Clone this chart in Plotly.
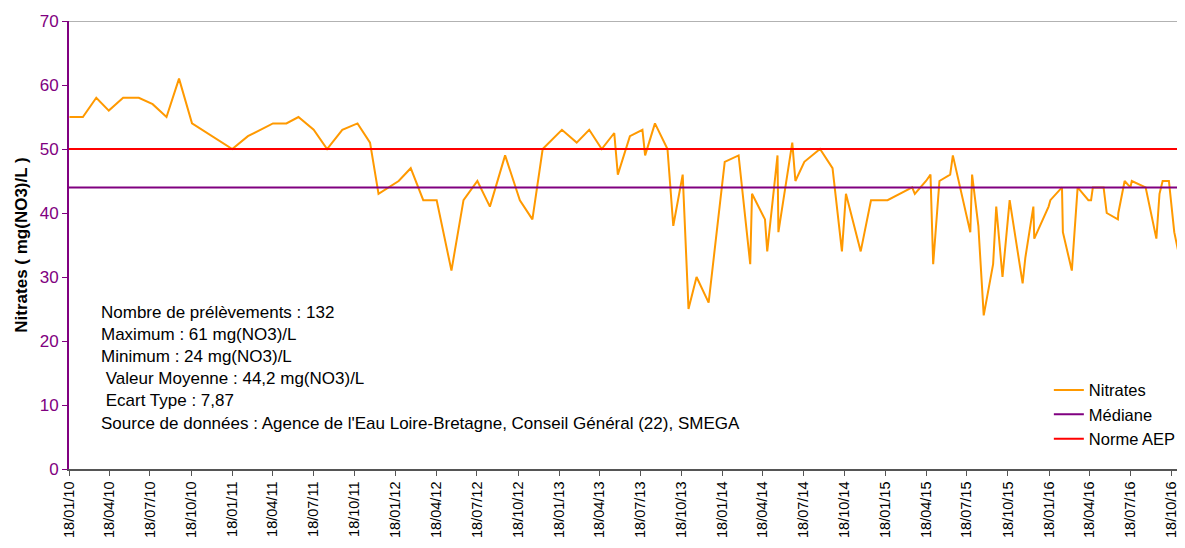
import plotly.graph_objects as go

dates = [
    "2010-01-19", "2010-02-18", "2010-03-20", "2010-04-17", "2010-05-19", "2010-06-23",
    "2010-07-24", "2010-08-24", "2010-09-21", "2010-10-20", "2011-01-18", "2011-02-22",
    "2011-04-19", "2011-05-19", "2011-06-15", "2011-07-19", "2011-08-18", "2011-09-21",
    "2011-10-25", "2011-11-22", "2011-12-11", "2012-01-25", "2012-02-21", "2012-03-20",
    "2012-04-19", "2012-05-22", "2012-06-18", "2012-07-19", "2012-08-16", "2012-09-19",
    "2012-10-22", "2012-11-19", "2012-12-12", "2013-01-24", "2013-02-26", "2013-03-26",
    "2013-04-23", "2013-05-21", "2013-05-29", "2013-06-25", "2013-07-23", "2013-07-29",
    "2013-08-20", "2013-09-17", "2013-09-30", "2013-10-21", "2013-11-03", "2013-11-21",
    "2013-12-18", "2014-01-23", "2014-02-23", "2014-03-21", "2014-03-25", "2014-04-23",
    "2014-04-28", "2014-05-21", "2014-05-23", "2014-06-23", "2014-06-30", "2014-07-20",
    "2014-08-24", "2014-09-21", "2014-10-12", "2014-10-21", "2014-11-23", "2014-12-16",
    "2015-01-22", "2015-03-18", "2015-03-24", "2015-04-18", "2015-04-28", "2015-05-04",
    "2015-05-18", "2015-06-11", "2015-06-17", "2015-07-26", "2015-07-30", "2015-08-13",
    "2015-08-25", "2015-09-15", "2015-09-22", "2015-10-06", "2015-10-22", "2015-11-20",
    "2015-11-26", "2015-12-14", "2015-12-16", "2016-01-17", "2016-01-21", "2016-02-16",
    "2016-02-18", "2016-03-09", "2016-03-22", "2016-04-15", "2016-04-21", "2016-04-25",
    "2016-05-19", "2016-05-26", "2016-06-20", "2016-06-21", "2016-07-05", "2016-07-18",
    "2016-07-21", "2016-08-21", "2016-09-14", "2016-09-21", "2016-09-28", "2016-10-12",
    "2016-10-24", "2016-11-08", "2016-11-15",
]

nitrates = [
    55, 55, 58, 56, 58, 58,
    57, 55, 61, 54, 50, 52,
    54, 54, 55, 53, 50, 53,
    54, 51, 43, 45, 47, 42,
    42, 31, 42, 45, 41, 49,
    42, 39, 50, 53, 51, 53,
    50, 52.5, 46, 52, 53, 49,
    54, 50, 38, 46, 25, 30,
    26, 48, 49, 32, 43, 39,
    34, 49, 37, 51, 45, 48,
    50, 47, 34, 43, 34, 42,
    42, 44, 43, 45, 46, 32,
    45, 46, 49, 37, 46, 38,
    24, 32, 41, 30, 42, 29,
    33, 41, 36, 41, 42, 44,
    37, 31, 44, 42, 42, 44,
    44, 40, 39, 40, 45, 44,
    45, 44, 36, 43, 45, 45,
    37, 32, 36,
]

mediane_value = 44
norme_value = 50

tick_dates = [
    "2010-01-18", "2010-04-18", "2010-07-18", "2010-10-18",
    "2011-01-18", "2011-04-18", "2011-07-18", "2011-10-18",
    "2012-01-18", "2012-04-18", "2012-07-18", "2012-10-18",
    "2013-01-18", "2013-04-18", "2013-07-18", "2013-10-18",
    "2014-01-18", "2014-04-18", "2014-07-18", "2014-10-18",
    "2015-01-18", "2015-04-18", "2015-07-18", "2015-10-18",
    "2016-01-18", "2016-04-18", "2016-07-18", "2016-10-18",
]
tick_labels = [d[8:10] + "/" + d[5:7] + "/" + d[2:4] for d in tick_dates]

x_start = "2010-01-18"
x_end = "2016-11-17"

stats_lines = [
    "Nombre de prélèvements : 132",
    "Maximum : 61 mg(NO3)/L",
    "Minimum : 24 mg(NO3)/L",
    "\u00a0Valeur Moyenne : 44,2 mg(NO3)/L",
    "\u00a0Ecart Type : 7,87",
    "Source de données : Agence de l'Eau Loire-Bretagne, Conseil Général (22), SMEGA",
]

FONT = "Liberation Sans, Arial, sans-serif"
PURPLE = "#800080"

fig = go.Figure()
fig.add_trace(go.Scatter(
    x=dates, y=nitrates, mode="lines", name="Nitrates",
    line=dict(color="#FF9900", width=2),
))
fig.add_trace(go.Scatter(
    x=[x_start, x_end], y=[mediane_value, mediane_value], mode="lines", name="Médiane",
    line=dict(color=PURPLE, width=2),
))
fig.add_trace(go.Scatter(
    x=[x_start, x_end], y=[norme_value, norme_value], mode="lines", name="Norme AEP",
    line=dict(color="#FF0000", width=2),
))

fig.add_annotation(
    xref="paper", yref="y", x=0.027, y=26.2, xanchor="left", yanchor="top",
    text="<br>".join(stats_lines), align="left", showarrow=False,
    font=dict(family=FONT, size=17, color="black"),
)

fig.add_shape(type="line", xref="paper", yref="y", x0=0, x1=1, y0=70, y1=70,
              line=dict(color="#999999", width=1.5))

fig.update_layout(
    template="none",
    width=1177, height=532,
    margin=dict(l=61, r=0, t=13, b=71),
    paper_bgcolor="white", plot_bgcolor="white",
    font=dict(family=FONT, size=16, color="black"),
    showlegend=True,
    legend=dict(
        x=0.878, y=0.215, xanchor="left", yanchor="top",
        bgcolor="rgba(0,0,0,0)", font=dict(family=FONT, size=16.5, color="black"),
        tracegroupgap=0,
    ),
    xaxis=dict(
        type="date", range=[x_start, x_end],
        tickmode="array", tickvals=tick_dates, ticktext=tick_labels,
        tickangle=-90, tickfont=dict(family=FONT, size=14.5, color="black"),
        showgrid=False, zeroline=False, showline=True, linecolor="#555555", linewidth=1.5,
        ticks="outside", ticklen=5, tickcolor="#555555", automargin=False,
    ),
    yaxis=dict(
        range=[0, 70], tickmode="linear", tick0=0, dtick=10,
        tickfont=dict(family=FONT, size=17, color=PURPLE),
        showgrid=False, zeroline=False, showline=True, linecolor=PURPLE, linewidth=2,
        ticks="outside", ticklen=5, tickcolor=PURPLE, automargin=False,
        title=dict(text="<b>Nitrates ( mg(NO3)/L )</b>", standoff=8,
                   font=dict(family=FONT, size=17, color="black")),
    ),
)

fig.write_html("out.html")
